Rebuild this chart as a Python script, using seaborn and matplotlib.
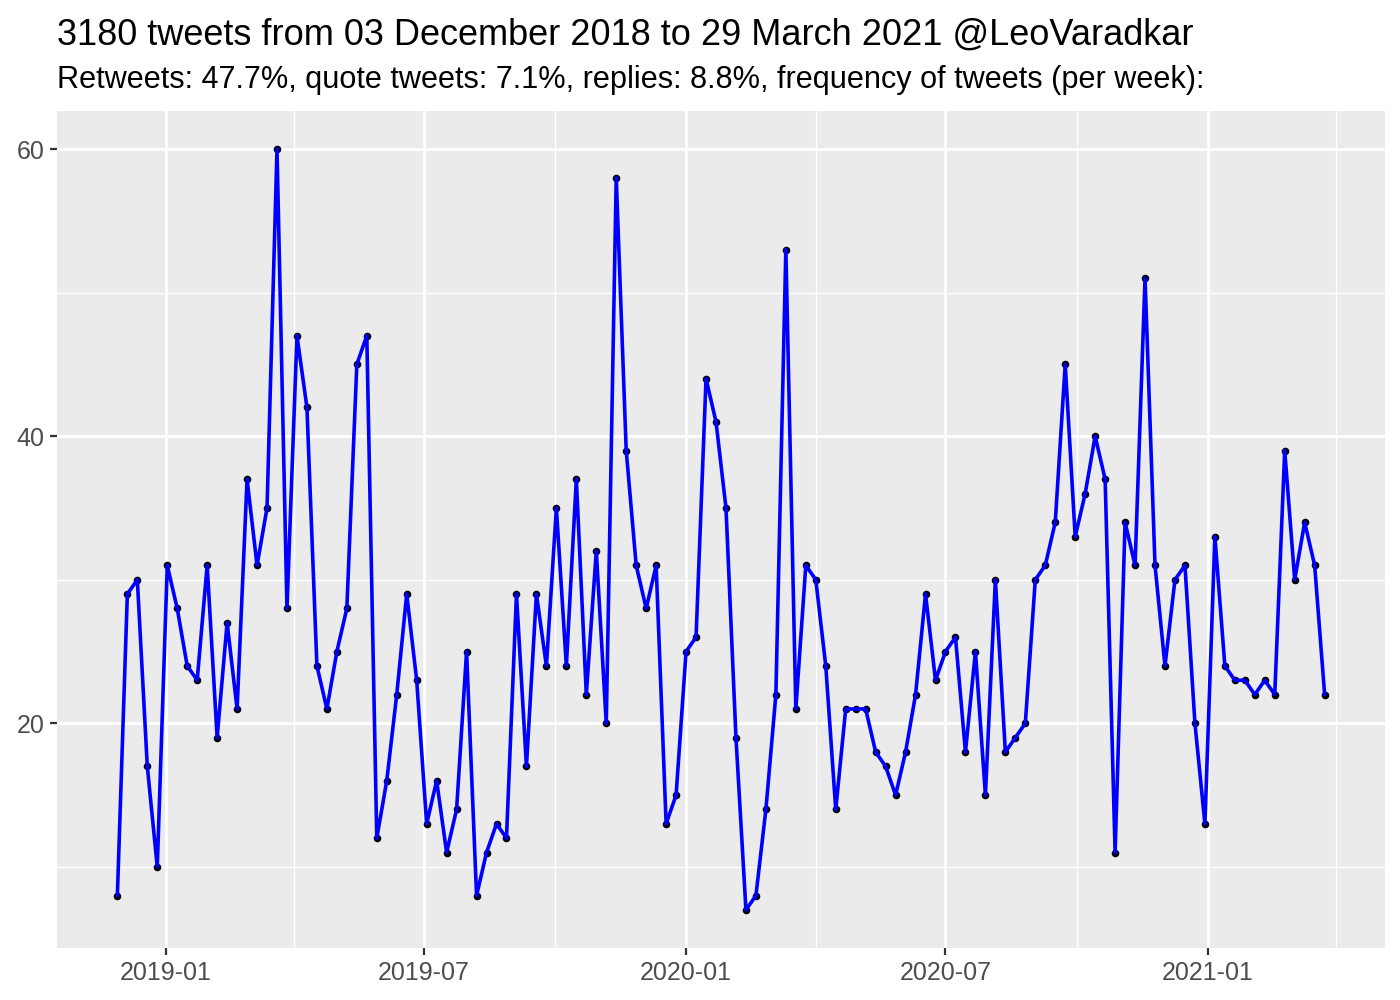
import numpy as np
import pandas as pd
import matplotlib
matplotlib.use('Agg')
import matplotlib.pyplot as plt
import matplotlib.dates as mdates
import seaborn as sns

# weekly tweet counts (122 weeks)
counts = [8, 29, 30, 17, 10, 31, 28, 24, 23, 31,
          19, 27, 21, 37, 31, 35, 60, 28, 47, 42,
          24, 21, 25, 28, 45, 47, 12, 16, 22, 29,
          23, 13, 16, 11, 14, 25, 8, 11, 13, 12,
          29, 17, 29, 24, 35, 24, 37, 22, 32, 20,
          58, 39, 31, 28, 31, 13, 15, 25, 26, 44,
          41, 35, 19, 7, 8, 14, 22, 53, 21, 31,
          30, 24, 14, 21, 21, 21, 18, 17, 15, 18,
          22, 29, 23, 25, 26, 18, 25, 15, 30, 18,
          19, 20, 30, 31, 34, 45, 33, 36, 40, 37,
          11, 34, 31, 51, 31, 24, 30, 31, 20, 13,
          33, 24, 23, 23, 22, 23, 22, 39, 30, 34,
          31, 22]
start_week = '2018-11-28'
y_ticks = [20, 40, 60]
y_minor = [10, 30, 50]

title = '3180 tweets from 03 December 2018 to 29 March 2021 @LeoVaradkar'
subtitle = ('Retweets: 47.7%, quote tweets: 7.1%, replies: 8.8%, '
            'frequency of tweets (per week):')

dates = pd.date_range(start_week, periods=len(counts), freq='7D')
df = pd.DataFrame({'week': dates, 'n': counts})

sns.set_theme(style='darkgrid', rc={
    'axes.facecolor': '#EBEBEB',
    'grid.color': 'white',
})
plt.rcParams['font.family'] = ['Liberation Sans', 'DejaVu Sans']

fig = plt.figure(figsize=(14, 10), dpi=100)
ax = fig.add_axes([57 / 1400, 52 / 1000, 1328 / 1400, 837 / 1000])

sns.scatterplot(data=df, x='week', y='n', color='black', s=30,
                edgecolor='black', linewidth=0, ax=ax, zorder=3)
sns.lineplot(data=df, x='week', y='n', color='blue', linewidth=2.6,
             ax=ax, zorder=4)

ax.set_xlabel('')
ax.set_ylabel('')
ax.margins(x=0.05, y=0.05)

ax.xaxis.set_major_locator(mdates.MonthLocator(bymonth=[1, 7]))
ax.xaxis.set_minor_locator(mdates.MonthLocator(bymonth=[4, 10]))
ax.xaxis.set_major_formatter(mdates.DateFormatter('%Y-%m'))
ax.set_yticks(y_ticks)
ax.set_yticks(y_minor, minor=True)

ax.grid(which='major', color='white', linewidth=2.0)
ax.grid(which='minor', color='white', linewidth=1.0)
ax.set_axisbelow(True)
for s in ax.spines.values():
    s.set_visible(False)

ax.tick_params(which='major', length=5, width=1.6, color='#333333',
               labelcolor='#4D4D4D', labelsize=18, pad=4,
               bottom=True, left=True)
ax.tick_params(which='minor', length=0)

fig.text(57 / 1400, 1 - 45 / 1000, title, fontsize=26.05, color='black',
         ha='left', va='baseline')
fig.text(57 / 1400, 1 - 88 / 1000, subtitle, fontsize=22.1, color='black',
         ha='left', va='baseline')

fig.savefig('out.png', dpi=100)
